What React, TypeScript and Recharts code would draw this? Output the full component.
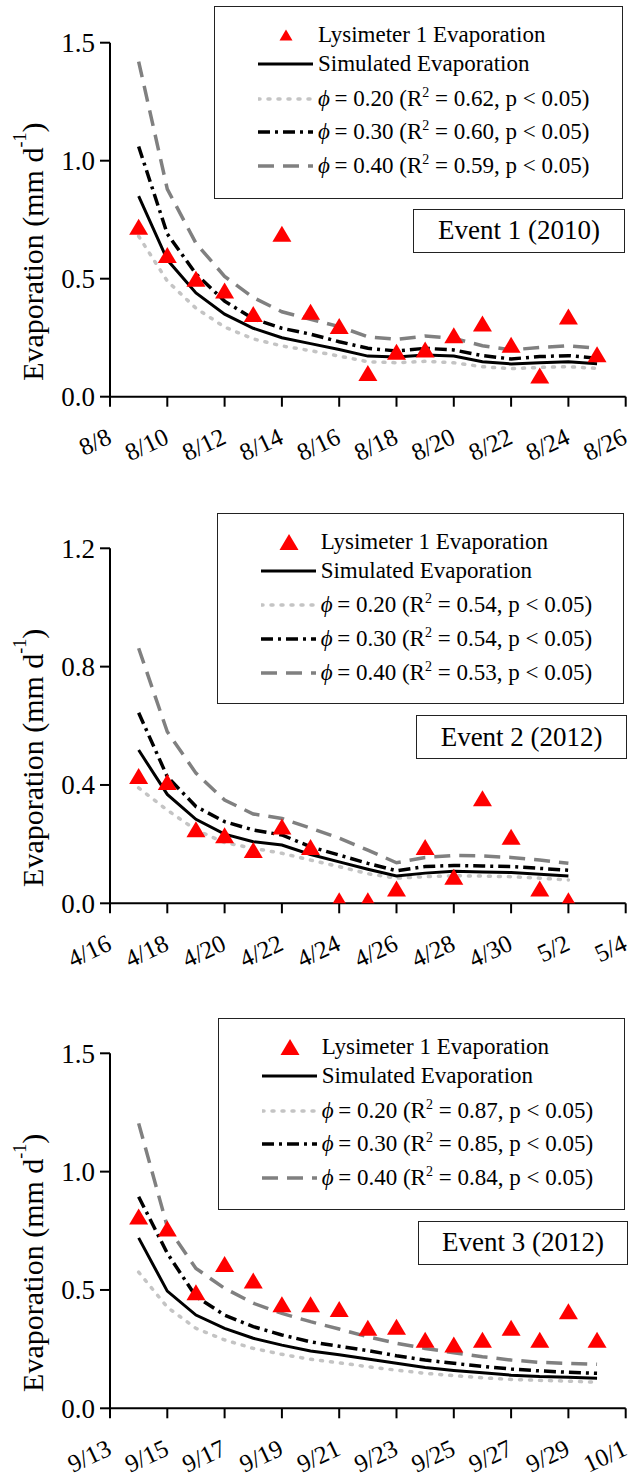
import React from 'react';
import { ComposedChart, Line, Scatter, XAxis, YAxis, Legend } from 'recharts';

const FONT = "'Liberation Serif', 'Times New Roman', Times, serif";

// ---- Event 1 (2010): 8/9 .. 8/25 ----
const ticks1 = ['8/8', '8/10', '8/12', '8/14', '8/16', '8/18', '8/20', '8/22', '8/24', '8/26'];
const obs1 = [0.72, 0.6, 0.5, 0.45, 0.35, 0.69, 0.36, 0.3, 0.1, 0.19, 0.2, 0.26, 0.31, 0.22, 0.09, 0.34, 0.18];
const sim1 = [0.85, 0.58, 0.44, 0.35, 0.29, 0.25, 0.225, 0.2, 0.172, 0.168, 0.177, 0.172, 0.148, 0.139, 0.144, 0.148, 0.14];
const phi20_1 = [0.68, 0.49, 0.375, 0.295, 0.245, 0.215, 0.195, 0.172, 0.148, 0.144, 0.15, 0.144, 0.127, 0.119, 0.124, 0.127, 0.12];
const phi30_1 = [1.06, 0.69, 0.52, 0.405, 0.33, 0.29, 0.265, 0.233, 0.205, 0.194, 0.205, 0.198, 0.174, 0.16, 0.17, 0.174, 0.163];
const phi40_1 = [1.42, 0.88, 0.65, 0.51, 0.42, 0.36, 0.328, 0.297, 0.254, 0.243, 0.257, 0.247, 0.216, 0.198, 0.209, 0.216, 0.205];
const r2_1 = ['0.62', '0.60', '0.59'];

// ---- Event 2 (2012): 4/17 .. 5/2 ----
const ticks2 = ['4/16', '4/18', '4/20', '4/22', '4/24', '4/26', '4/28', '4/30', '5/2', '5/4'];
const obs2 = [0.43, 0.41, 0.25, 0.23, 0.18, 0.26, 0.19, 0.01, 0.01, 0.05, 0.19, 0.09, 0.355, 0.225, 0.05, 0.01];
const sim2 = [0.518, 0.368, 0.284, 0.234, 0.208, 0.197, 0.165, 0.14, 0.115, 0.092, 0.102, 0.108, 0.106, 0.104, 0.098, 0.092];
const phi20_2 = [0.39, 0.315, 0.248, 0.205, 0.186, 0.169, 0.146, 0.124, 0.1, 0.085, 0.09, 0.093, 0.092, 0.09, 0.085, 0.079];
const phi30_2 = [0.644, 0.428, 0.327, 0.276, 0.248, 0.231, 0.191, 0.163, 0.135, 0.11, 0.124, 0.128, 0.126, 0.124, 0.118, 0.112];
const phi40_2 = [0.862, 0.58, 0.44, 0.349, 0.302, 0.287, 0.254, 0.22, 0.18, 0.137, 0.155, 0.162, 0.16, 0.155, 0.146, 0.135];
const r2_2 = ['0.54', '0.54', '0.53'];

// ---- Event 3 (2012): 9/14 .. 9/30 ----
const ticks3 = ['9/13', '9/15', '9/17', '9/19', '9/21', '9/23', '9/25', '9/27', '9/29', '10/1'];
const obs3 = [0.81, 0.76, 0.49, 0.61, 0.54, 0.44, 0.44, 0.42, 0.34, 0.345, 0.29, 0.27, 0.29, 0.34, 0.29, 0.41, 0.29];
const sim3 = [0.72, 0.495, 0.394, 0.338, 0.296, 0.267, 0.242, 0.226, 0.208, 0.19, 0.172, 0.16, 0.15, 0.14, 0.134, 0.131, 0.127];
const phi20_3 = [0.575, 0.427, 0.338, 0.289, 0.253, 0.228, 0.207, 0.192, 0.176, 0.161, 0.148, 0.138, 0.129, 0.122, 0.118, 0.115, 0.11];
const phi30_3 = [0.894, 0.655, 0.472, 0.394, 0.345, 0.31, 0.281, 0.262, 0.244, 0.222, 0.204, 0.19, 0.177, 0.166, 0.158, 0.152, 0.148];
const phi40_3 = [1.204, 0.767, 0.591, 0.507, 0.444, 0.401, 0.366, 0.335, 0.302, 0.275, 0.253, 0.235, 0.218, 0.204, 0.194, 0.19, 0.186];
const r2_3 = ['0.87', '0.85', '0.84'];

const phiValues = ['0.20', '0.30', '0.40'];

const STYLE = {
  sim: { stroke: '#000', strokeWidth: 3, dash: undefined as string | undefined, cap: 'butt' as const },
  phi20: { stroke: '#c4c4c4', strokeWidth: 3.5, dash: '2 8', cap: 'round' as const },
  phi30: { stroke: '#000', strokeWidth: 3.5, dash: '12 5 3 5', cap: 'butt' as const },
  phi40: { stroke: '#808080', strokeWidth: 3.5, dash: '16 9', cap: 'butt' as const },
};

function buildRows(obs: number[], sim: number[], p20: number[], p30: number[], p40: number[]) {
  return obs.map((o, i) => ({ day: i + 1, obs: o, sim: sim[i], phi20: p20[i], phi30: p30[i], phi40: p40[i] }));
}

function Triangle(props: any) {
  const { cx, cy } = props;
  if (cx == null || cy == null) return null;
  const w = 19;
  const h = 16;
  return (
    <polygon
      points={`${cx},${cy - h / 2} ${cx - w / 2},${cy + h / 2} ${cx + w / 2},${cy + h / 2}`}
      fill="#ff0000"
    />
  );
}

// rotated date labels under the x axis
function XTick(props: any) {
  const { x, y, payload, labels } = props;
  const text = labels[Math.round(payload.value / 2)];
  return (
    <text
      transform={`translate(${x + 3},${y + 34}) rotate(-25)`}
      textAnchor="end"
      fontFamily={FONT}
      fontSize={25}
      fill="#000"
    >
      {text}
    </text>
  );
}

function YTick(props: any) {
  const { x, y, payload } = props;
  return (
    <text x={x} y={y} dy="0.35em" textAnchor="end" fontFamily={FONT} fontSize={27} fill="#000">
      {Number(payload.value).toFixed(1)}
    </text>
  );
}

function YTitle(props: any) {
  const vb = props.viewBox || { x: 30, y: 0, width: 80, height: 354 };
  const cx = vb.x + 2;
  const cy = vb.y + vb.height / 2 + 32;
  return (
    <text
      transform={`translate(${cx},${cy}) rotate(-90)`}
      textAnchor="middle"
      dominantBaseline="central"
      fontFamily={FONT}
      fontSize={30}
      fill="#000"
    >
      Evaporation (mm d
      <tspan dy={-12} fontSize={18}>-1</tspan>
      <tspan dy={12}>)</tspan>
    </text>
  );
}

type BoxSpec = {
  left: number; top: number; w: number; h: number;
  evLeft: number; evTop: number; evW: number; evH: number;
  tri: number; event: string; r2: string[];
};

function Sample({ kind }: { kind: keyof typeof STYLE }) {
  const s = STYLE[kind];
  return (
    <svg width={55} height={20} style={{ position: 'absolute', left: 43, top: 3 }}>
      <line x1={0} y1={10} x2={55} y2={10} stroke={s.stroke} strokeWidth={s.strokeWidth}
        strokeDasharray={s.dash} strokeLinecap={s.cap} />
    </svg>
  );
}

function LegendPanel({ spec }: { spec: BoxSpec }) {
  const rowCenters = [28, 57, 91.5, 125, 159];
  const rowStyle = (c: number): React.CSSProperties => ({
    position: 'absolute', left: 0, top: c - 13, height: 26, width: '100%',
  });
  const textStyle: React.CSSProperties = {
    position: 'absolute', left: 103, top: 0, lineHeight: '26px', fontSize: 23,
    fontFamily: FONT, whiteSpace: 'nowrap', color: '#000',
  };
  const sup: React.CSSProperties = { fontSize: 14, position: 'relative', top: -9 };
  const kinds: (keyof typeof STYLE)[] = ['phi20', 'phi30', 'phi40'];
  const tw = spec.tri;
  const th = spec.tri * 0.84;
  return (
    <div style={{ position: 'relative', width: spec.evLeft - spec.left + spec.evW, height: spec.evTop - spec.top + spec.evH }}>
      <div style={{
        position: 'absolute', left: 0, top: 0, width: spec.w, height: spec.h,
        border: '1.3px solid #222', boxSizing: 'border-box', background: '#fff',
      }}>
        <div style={rowStyle(rowCenters[0])}>
          <svg width={30} height={26} style={{ position: 'absolute', left: 71 - 15, top: 0 }}>
            <polygon points={`15,${13 - th / 2} ${15 - tw / 2},${13 + th / 2} ${15 + tw / 2},${13 + th / 2}`} fill="#ff0000" />
          </svg>
          <span style={textStyle}>Lysimeter 1 Evaporation</span>
        </div>
        <div style={rowStyle(rowCenters[1])}>
          <Sample kind="sim" />
          <span style={textStyle}>Simulated Evaporation</span>
        </div>
        {kinds.map((k, i) => (
          <div key={k} style={rowStyle(rowCenters[i + 2])}>
            <Sample kind={k} />
            <span style={textStyle}>
              <i>ϕ</i>{'\u2009'}= {phiValues[i]} (R<span style={sup}>2</span> = {spec.r2[i]}, p &lt; 0.05)
            </span>
          </div>
        ))}
      </div>
      <div style={{
        position: 'absolute', left: spec.evLeft - spec.left, top: spec.evTop - spec.top,
        width: spec.evW, height: spec.evH, border: '1.3px solid #222', boxSizing: 'border-box',
        background: '#fff', display: 'flex', alignItems: 'center', justifyContent: 'center',
        fontFamily: FONT, fontSize: 27, color: '#000', whiteSpace: 'nowrap',
      }}>
        {spec.event}
      </div>
    </div>
  );
}

type PanelProps = {
  top: number; height: number; margin: { top: number; bottom: number };
  rows: ReturnType<typeof buildRows>; yMax: number; yTicks: number[]; labels: string[]; spec: BoxSpec;
};

function Panel({ top, height, margin, rows, yMax, yTicks, labels, spec }: PanelProps) {
  return (
    <div style={{ position: 'absolute', left: 0, top, width: 633, height }}>
      <ComposedChart
        width={633}
        height={height}
        data={rows}
        margin={{ top: margin.top, right: 7.3, bottom: margin.bottom, left: 30 }}
      >
        <XAxis
          type="number"
          dataKey="day"
          domain={[0, 18]}
          ticks={[0, 2, 4, 6, 8, 10, 12, 14, 16, 18]}
          allowDataOverflow
          height={30}
          tickSize={10}
          axisLine={{ stroke: '#000', strokeWidth: 2 }}
          tickLine={{ stroke: '#000', strokeWidth: 2 }}
          tick={<XTick labels={labels} />}
          interval={0}
        />
        <YAxis
          type="number"
          domain={[0, yMax]}
          ticks={yTicks}
          allowDataOverflow
          width={80}
          tickSize={10}
          tickMargin={5}
          axisLine={{ stroke: '#000', strokeWidth: 2 }}
          tickLine={{ stroke: '#000', strokeWidth: 2 }}
          tick={<YTick />}
          interval={0}
          label={<YTitle />}
        />
        <Scatter dataKey="obs" shape={Triangle} isAnimationActive={false} />
        {(['phi40', 'phi20', 'phi30', 'sim'] as const).map((k) => (
          <Line
            key={k}
            dataKey={k}
            type="linear"
            dot={false}
            activeDot={false}
            stroke={STYLE[k].stroke}
            strokeWidth={STYLE[k].strokeWidth}
            strokeDasharray={STYLE[k].dash}
            strokeLinecap={STYLE[k].cap}
            isAnimationActive={false}
          />
        ))}
        <Legend
          layout="vertical"
          align="center"
          verticalAlign="middle"
          content={() => <LegendPanel spec={spec} />}
          wrapperStyle={{ position: 'absolute', left: spec.left, top: spec.top, width: 'auto', height: 'auto', margin: 0 }}
        />
      </ComposedChart>
    </div>
  );
}

const rows1 = buildRows(obs1, sim1, phi20_1, phi30_1, phi40_1);
const rows2 = buildRows(obs2, sim2, phi20_2, phi30_2, phi40_2);
const rows3 = buildRows(obs3, sim3, phi20_3, phi30_3, phi40_3);

export default function App() {
  return (
    <div style={{ position: 'absolute', left: 0, top: 0, width: 633, height: 1478, background: '#fff', fontFamily: FONT }}>
      <Panel
        top={0} height={480} margin={{ top: 42.7, bottom: 53.3 }}
        rows={rows1} yMax={1.5} yTicks={[0, 0.5, 1, 1.5]} labels={ticks1}
        spec={{ left: 214, top: 6, w: 408.7, h: 192.7, evLeft: 413, evTop: 208.7, evW: 212, evH: 44.6, tri: 13, event: 'Event 1 (2010)', r2: r2_1 }}
      />
      <Panel
        top={490} height={490} margin={{ top: 58.3, bottom: 46.7 }}
        rows={rows2} yMax={1.2} yTicks={[0, 0.4, 0.8, 1.2]} labels={ticks2}
        spec={{ left: 216.7, top: 22.7, w: 407.3, h: 191.3, evLeft: 416, evTop: 225, evW: 211.3, evH: 44.3, tri: 19, event: 'Event 2 (2012)', r2: r2_2 }}
      />
      <Panel
        top={990} height={488} margin={{ top: 63.3, bottom: 39.7 }}
        rows={rows3} yMax={1.5} yTicks={[0, 0.5, 1, 1.5]} labels={ticks3}
        spec={{ left: 217.7, top: 28.3, w: 407.3, h: 191.7, evLeft: 417.7, evTop: 230.7, evW: 210.6, evH: 44.3, tri: 19, event: 'Event 3 (2012)', r2: r2_3 }}
      />
    </div>
  );
}
